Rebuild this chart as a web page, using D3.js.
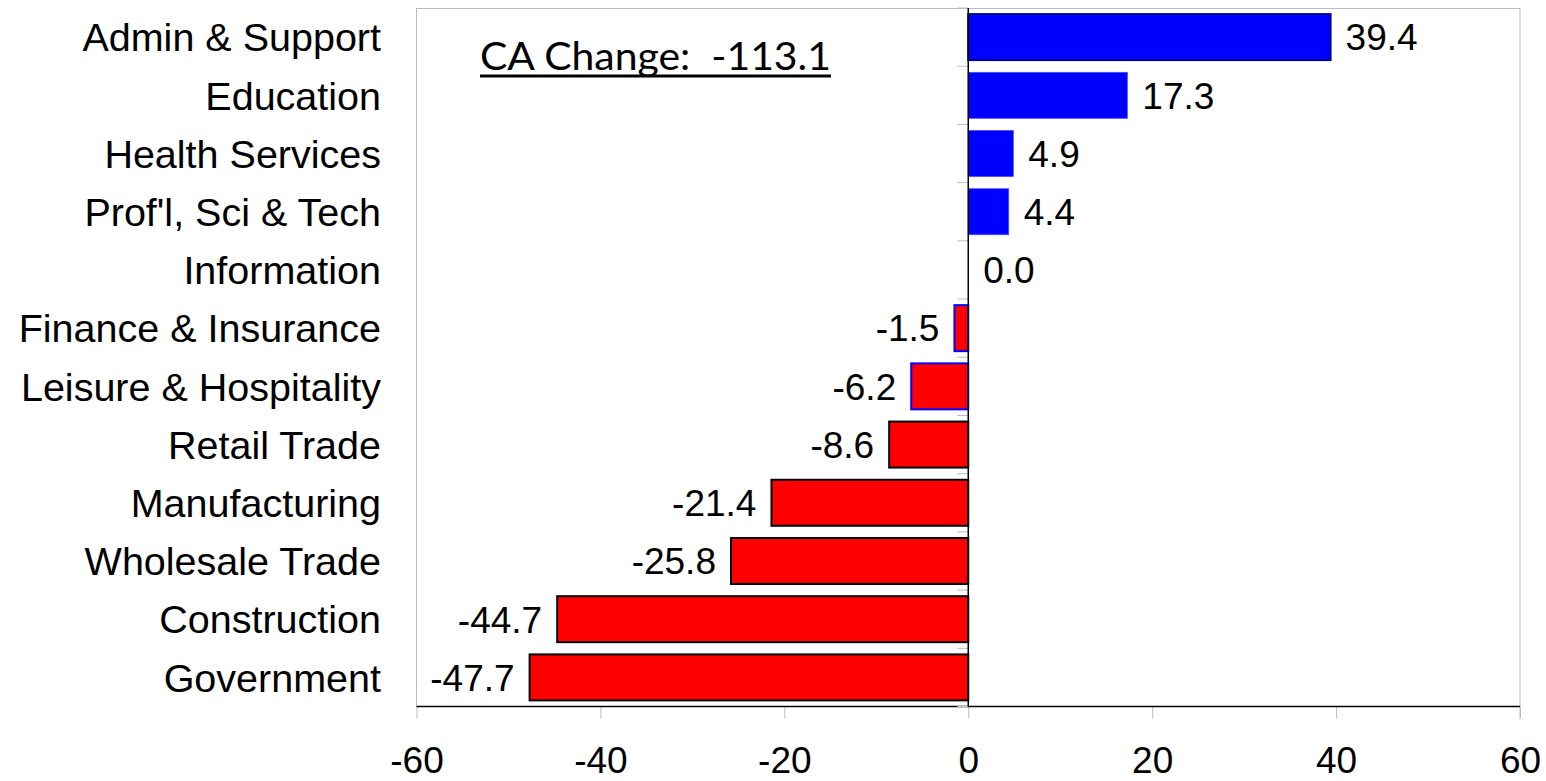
<!DOCTYPE html>
<html><head><meta charset="utf-8">
<script src="https://cdn.jsdelivr.net/npm/d3@7"></script>
<style>body{margin:0;background:#fff;}svg{display:block;}</style>
</head><body>
<svg id="c" width="1546" height="781"></svg>
<script>
const categories = ["Admin & Support","Education","Health Services","Prof'l, Sci & Tech","Information","Finance & Insurance","Leisure & Hospitality","Retail Trade","Manufacturing","Wholesale Trade","Construction","Government"];
const values = [39.4,17.3,4.9,4.4,0.0,-1.5,-6.2,-8.6,-21.4,-25.8,-44.7,-47.7];
const xTicks = [-60,-40,-20,0,20,40,60];
const totalLabel = "CA Change:  -113.1";

const FONT = "'Liberation Sans', Arial, sans-serif";
const svg = d3.select("#c");
const L = 416.5, R = 1520, T = 8, B = 706.5;
const x = d3.scaleLinear().domain([-60,60]).range([L,R]);
const y = d3.scaleBand().domain(categories).range([T,B]).paddingInner(0.21).paddingOuter(0.105);
const yb = d3.scaleBand().domain(categories).range([T,B]);

// plot border (gray)
svg.append("line").attr("x1",L).attr("x2",R).attr("y1",T+0.5).attr("y2",T+0.5).attr("stroke","#bdbdbd").attr("stroke-width",1);
svg.append("line").attr("x1",L).attr("x2",L).attr("y1",T).attr("y2",B).attr("stroke","#bdbdbd").attr("stroke-width",1);
svg.append("line").attr("x1",R).attr("x2",R).attr("y1",T).attr("y2",B+12).attr("stroke","#bdbdbd").attr("stroke-width",1);

// bottom axis
const xa = svg.append("g").attr("transform",`translate(0,${B})`)
  .call(d3.axisBottom(x).tickValues(xTicks).tickSize(12).tickPadding(0).tickFormat(d=>String(d)));
xa.select(".domain").remove();
xa.selectAll(".tick line").attr("stroke","#bdbdbd");
xa.selectAll(".tick text").style("font-family",FONT).style("font-size","37px").attr("fill","#000")
  .attr("y",66.5).attr("dy",null);
svg.append("line").attr("x1",L).attr("x2",R).attr("y1",B).attr("y2",B).attr("stroke","#000").attr("stroke-width",1.5);

// category boundary ticks on zero line
const bounds = categories.map(c=>yb(c)).concat([B]);
svg.selectAll(".ct").data(bounds).enter().append("line")
  .attr("x1",x(0)-11).attr("x2",x(0)).attr("y1",d=>d).attr("y2",d=>d)
  .attr("stroke","#bdbdbd").attr("stroke-width",1);

// bars
const strokeFor = (d,i)=> i===0 ? "#00008b" : (d>0 ? "#4a4aff" : (i===5||i===6 ? "#0000ff" : "#000"));
svg.selectAll(".bar").data(values).enter().append("rect")
  .attr("x",d=>x(Math.min(0,d)))
  .attr("width",d=>Math.abs(x(d)-x(0)))
  .attr("y",(d,i)=>y(categories[i]))
  .attr("height",y.bandwidth())
  .attr("fill",d=>d>0?"#0000ff":"#ff0000")
  .attr("stroke",(d,i)=>d===0?"none":strokeFor(d,i))
  .attr("stroke-width",(d,i)=> d>0 && i!==0 ? 0.8 : 2);

// zero line
svg.append("line").attr("x1",x(0)).attr("x2",x(0)).attr("y1",T).attr("y2",B).attr("stroke","#000").attr("stroke-width",1.5);

// value labels
svg.selectAll(".vl").data(values).enter().append("text")
  .attr("x",d=> d>=0 ? x(d)+15 : x(d)-15)
  .attr("y",(d,i)=>yb(categories[i])+yb.bandwidth()/2)
  .attr("dy","0.36em")
  .attr("text-anchor",d=>d>=0?"start":"end")
  .style("font-family",FONT).style("font-size","37px")
  .text(d=>d.toFixed(1));

// category labels
svg.selectAll(".cl").data(categories).enter().append("text")
  .attr("x",381)
  .attr("y",d=>yb(d)+yb.bandwidth()/2)
  .attr("dy","0.36em")
  .attr("text-anchor","end")
  .style("font-family",FONT).style("font-size","39.5px")
  .text(d=>d);

// title annotation
svg.append("text").attr("x",480).attr("y",70)
  .style("font-family","Lato, Carlito, Calibri, sans-serif").style("font-size","38px")
  .style("white-space","pre")
  .attr("textLength",351).attr("lengthAdjust","spacingAndGlyphs")
  .text(totalLabel);
svg.append("line").attr("x1",480).attr("x2",831).attr("y1",76).attr("y2",76).attr("stroke","#000").attr("stroke-width",3);
</script>
</body></html>
